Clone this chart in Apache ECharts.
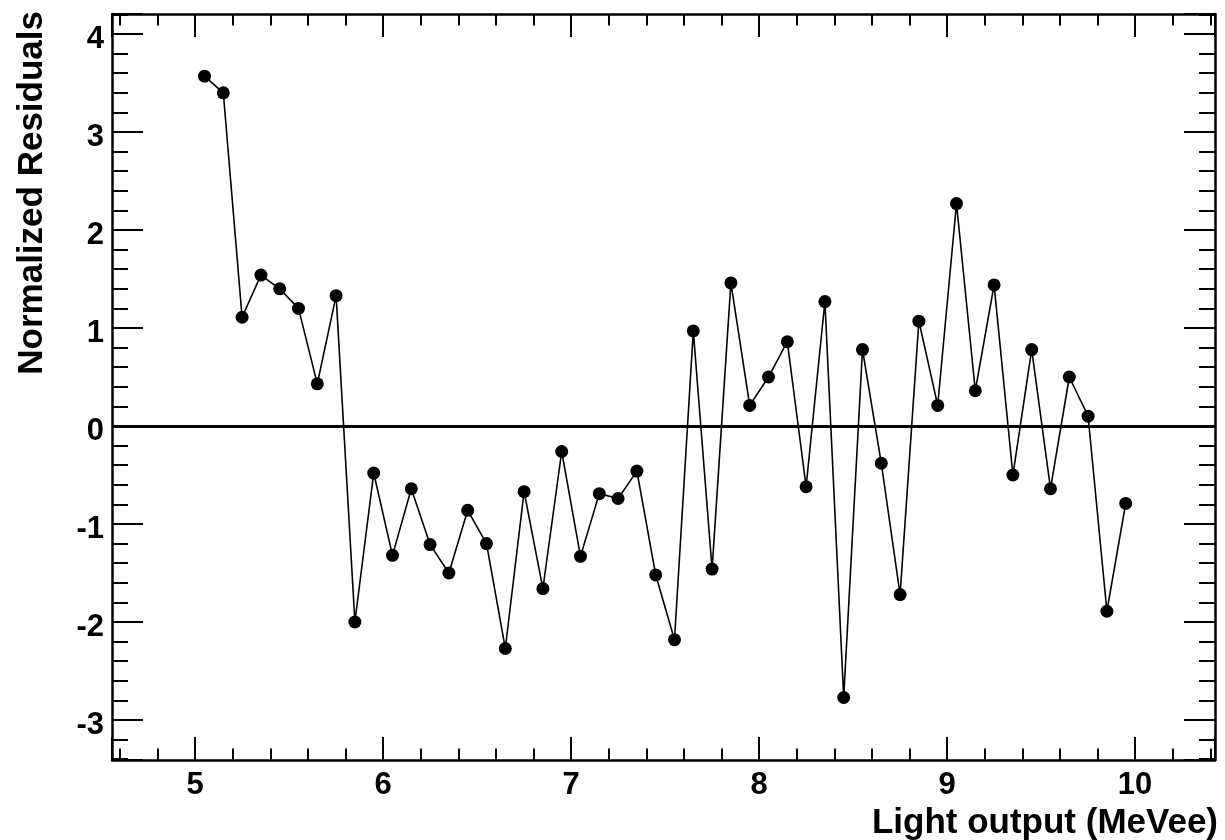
<!DOCTYPE html>
<html>
<head>
<meta charset="utf-8">
<title>Normalized Residuals</title>
<script src="https://cdn.jsdelivr.net/npm/echarts@6/dist/echarts.min.js"></script>
<style>
  html, body { margin: 0; padding: 0; background: #fff; }
  #chart { width: 1225px; height: 840px; }
</style>
</head>
<body>
<div id="chart"></div>
<script>
// Bin centres of the light-output spectrum (MeVee)
const lightOutput = [
  5.05, 5.15, 5.25, 5.35, 5.45, 5.55, 5.65, 5.75, 5.85, 5.95,
  6.05, 6.15, 6.25, 6.35, 6.45, 6.55, 6.65, 6.75, 6.85, 6.95,
  7.05, 7.15, 7.25, 7.35, 7.45, 7.55, 7.65, 7.75, 7.85, 7.95,
  8.05, 8.15, 8.25, 8.35, 8.45, 8.55, 8.65, 8.75, 8.85, 8.95,
  9.05, 9.15, 9.25, 9.35, 9.45, 9.55, 9.65, 9.75, 9.85, 9.95
];

// Normalized residual in each bin
const residuals = [
  3.57, 3.40, 1.11, 1.54, 1.40, 1.20, 0.43, 1.33, -2.00, -0.48,
  -1.32, -0.64, -1.21, -1.50, -0.86, -1.20, -2.27, -0.67, -1.66, -0.26,
  -1.33, -0.69, -0.74, -0.46, -1.52, -2.18, 0.97, -1.46, 1.46, 0.21,
  0.50, 0.86, -0.62, 1.27, -2.77, 0.78, -0.38, -1.72, 1.07, 0.21,
  2.27, 0.36, 1.44, -0.50, 0.78, -0.64, 0.50, 0.10, -1.89, -0.79
];

// Axis ranges
const xRange = [4.558, 10.425];
const yRange = [-3.408, 4.204];

const xTitle = 'Light output (MeVee)';
const yTitle = 'Normalized Residuals';

const FONT = '"Liberation Sans", Arial, Helvetica, sans-serif';
const points = lightOutput.map((x, i) => [x, residuals[i]]);

function frameAxis(isX, showLabels, position) {
  const major = isX ? 23 : 31;
  const minor = isX ? 11.5 : 16;
  const label = {
    show: showLabels,
    color: '#000',
    fontFamily: FONT,
    fontWeight: 'bold',
    fontSize: 31,
    margin: isX ? 10 : 8,
    showMinLabel: false,
    showMaxLabel: false,
    formatter: v => String(Math.round(v))
  };
  if (!isX) {
    // y labels sit a little below their tick
    label.verticalAlign = 'top';
    label.lineHeight = 10;
  }
  return {
    type: 'value',
    position: position,
    min: isX ? xRange[0] : yRange[0],
    max: isX ? xRange[1] : yRange[1],
    splitNumber: isX ? 5 : 7,
    axisLine: { show: true, onZero: false, lineStyle: { color: '#000', width: 2.5 } },
    axisTick: { show: true, inside: true, length: major, lineStyle: { color: '#000', width: 2 } },
    minorTick: { show: true, splitNumber: 5, length: minor, lineStyle: { color: '#000', width: 2 } },
    splitLine: { show: false },
    minorSplitLine: { show: false },
    axisLabel: label
  };
}

const chart = echarts.init(document.getElementById('chart'), null, { renderer: 'canvas' });

chart.setOption({
  animation: false,
  backgroundColor: '#fff',
  grid: { left: 112, top: 14, right: 10, bottom: 80, containLabel: false, outerBoundsMode: 'none' },
  xAxis: [frameAxis(true, true, 'bottom'), frameAxis(true, false, 'top')],
  yAxis: [frameAxis(false, true, 'left'), frameAxis(false, false, 'right')],
  graphic: [
    {
      type: 'text',
      x: 1218, y: 823,
      style: {
        text: xTitle, align: 'right', verticalAlign: 'middle',
        font: 'bold 35px ' + FONT, fill: '#000'
      }
    },
    {
      type: 'text',
      x: 32, y: 11,
      rotation: Math.PI / 2,
      style: {
        text: yTitle, align: 'right', verticalAlign: 'middle',
        font: 'bold 35px ' + FONT, fill: '#000'
      }
    }
  ],
  series: [
    {
      type: 'line',
      xAxisIndex: 0,
      yAxisIndex: 0,
      data: points,
      symbol: 'circle',
      symbolSize: 13,
      showAllSymbol: true,
      itemStyle: { color: '#000' },
      lineStyle: { color: '#000', width: 1.6 },
      emphasis: { disabled: true },
      markLine: {
        silent: true,
        symbol: ['none', 'none'],
        label: { show: false },
        lineStyle: { color: '#000', width: 3, type: 'solid' },
        data: [{ yAxis: 0 }]
      }
    }
  ]
});
</script>
</body>
</html>
